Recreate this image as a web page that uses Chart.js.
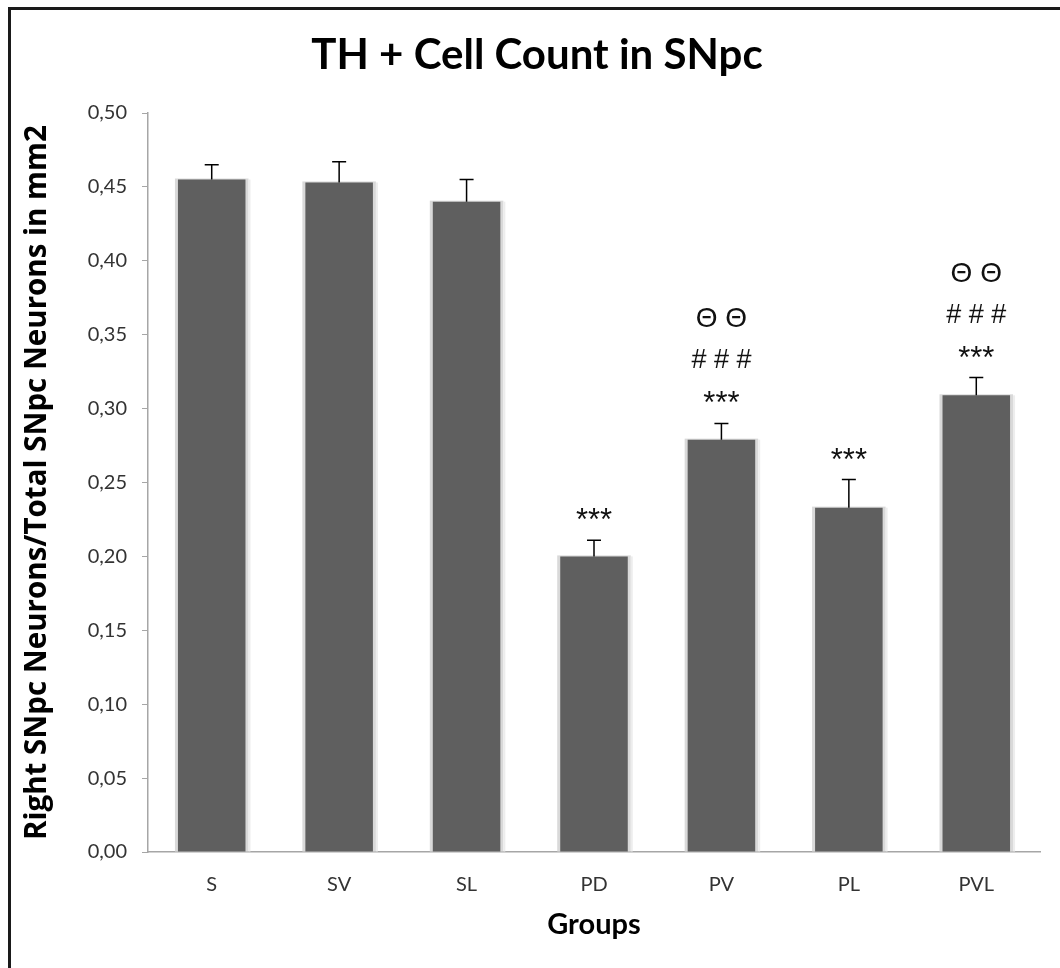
<html>
<head>
	<title>TH + Cell Count in SNpc</title>
	<meta charset="utf-8">
	<style type="text/css">
		html, body { margin: 0; padding: 0; background: #fff; overflow: hidden; }
		#frame { position: absolute; left: 8px; top: 7px; width: 1100px; height: 1000px; border: 3px solid #1a1a1a; }
		#wrap { position: absolute; left: 0; top: 0; width: 1060px; height: 968px; }
	</style>
</head>
<body>
	<div id="frame"></div>
	<div id="wrap"><canvas id="myChart" width="1060" height="968"></canvas></div>

	<script src="https://cdn.jsdelivr.net/npm/chart.js"></script>
	<script type="text/javascript">
	// groups and their means (+ SEM)
	var groups = ["S", "SV", "SL", "PD", "PV", "PL", "PVL"];
	var means = [0.455, 0.453, 0.440, 0.200, 0.279, 0.233, 0.309];
	var sem = [0.010, 0.014, 0.015, 0.011, 0.011, 0.019, 0.012];

	// significance marks, bottom to top
	var stars = ["", "", "", "***", "***", "***", "***"];
	var hashes = ["", "", "", "", "# # #", "", "# # #"];
	var thetas = ["", "", "", "", "\u0398 \u0398", "", "\u0398 \u0398"];

	var yTicks = [0, 0.05, 0.10, 0.15, 0.20, 0.25, 0.30, 0.35, 0.40, 0.45, 0.50];

	var font = "Lato, 'Open Sans', sans-serif";
	var markFont = "'Liberation Sans', Arial, sans-serif";

	// light grey halo behind every bar
	var barHalo = {
		id: "barHalo",
		beforeDatasetsDraw: function(chart){
			var ctx = chart.ctx;
			chart.getDatasetMeta(0).data.forEach(function(b){
				var w = b.width;
				ctx.save();
				ctx.fillStyle = "#d9d9d9";
				ctx.fillRect(b.x - w/2 - 3, b.y - 1, w + 6, b.base - b.y + 1);
				ctx.fillStyle = "#ededed";
				ctx.fillRect(b.x + w/2 + 3, b.y, 2, b.base - b.y);
				ctx.restore();
			});
		}
	};

	// SEM whiskers and the significance marks above them
	var errorBars = {
		id: "errorBars",
		afterDatasetsDraw: function(chart){
			var ctx = chart.ctx;
			var y = chart.scales.y;
			chart.getDatasetMeta(0).data.forEach(function(b, i){
				var top = y.getPixelForValue(means[i] + sem[i]);
				ctx.save();
				ctx.strokeStyle = "#000";
				ctx.lineWidth = 1.5;
				ctx.beginPath();
				ctx.moveTo(b.x, b.y);
				ctx.lineTo(b.x, top);
				ctx.moveTo(b.x - 7, top);
				ctx.lineTo(b.x + 7, top);
				ctx.stroke();

				ctx.fillStyle = "#111";
				ctx.textAlign = "center";
				ctx.textBaseline = "alphabetic";
				ctx.font = "31px " + markFont;
				if(stars[i]) ctx.fillText(stars[i], b.x, top - 28 + 18);
				ctx.font = "27px " + markFont;
				if(hashes[i]) ctx.fillText(hashes[i], b.x, top - 64 + 9);
				ctx.font = "28px " + markFont;
				if(thetas[i]) ctx.fillText(thetas[i], b.x, top - 106 + 10);
				ctx.restore();
			});
		}
	};

	var ctx = document.getElementById("myChart");
	var chart = new Chart(ctx, {
		type: "bar",
		data: {
			labels: groups,
			datasets: [{
				data: means,
				backgroundColor: "#5f5f5f",
				borderWidth: 0,
				barPercentage: 0.53,
				categoryPercentage: 1
			}]
		},
		options: {
			responsive: false,
			animation: false,
			events: [],
			layout: { padding: { left: 34, right: 20, top: 18, bottom: 20 } },
			plugins: {
				legend: { display: false },
				tooltip: { enabled: false },
				title: {
					display: true,
					text: "TH + Cell Count in SNpc",
					color: "#000",
					font: { family: font, size: 42, weight: "bold", lineHeight: 1.2 },
					padding: { top: 12, bottom: 32.6 }
				}
			},
			scales: {
				x: {
					grid: { display: true, drawOnChartArea: false, drawTicks: false },
					border: { display: true, color: "#a6a6a6", width: 1.5 },
					ticks: { color: "#333", padding: 21, font: { family: font, size: 20 } },
					title: {
						display: true,
						text: "Groups",
						color: "#000",
						font: { family: font, size: 29, weight: "bold", lineHeight: 1.2 },
						padding: { top: 0, bottom: 6 }
					},
					afterFit: function(s){ s.height = 96; }
				},
				y: {
					min: 0,
					max: 0.5,
					afterBuildTicks: function(s){
						s.ticks = yTicks.map(function(v){ return { value: v }; });
					},
					grid: { display: true, drawOnChartArea: false, drawTicks: true, tickLength: 6, color: "#a6a6a6" },
					border: { display: true, color: "#a6a6a6", width: 1.5 },
					ticks: {
						color: "#333",
						padding: 15,
						font: { family: font, size: 20 },
						callback: function(v){ return v.toFixed(2).replace(".", ","); }
					},
					title: {
						display: true,
						text: "Right SNpc Neurons/Total SNpc Neurons in mm2",
						color: "#000",
						font: { family: "'Open Sans', Lato, sans-serif", size: 29.5, weight: "bold", lineHeight: 1.2 },
						padding: { top: -14, bottom: 0 }
					},
					afterFit: function(s){ s.width = 114; }
				}
			}
		},
		plugins: [barHalo, errorBars]
	});
	</script>
</body>
</html>
